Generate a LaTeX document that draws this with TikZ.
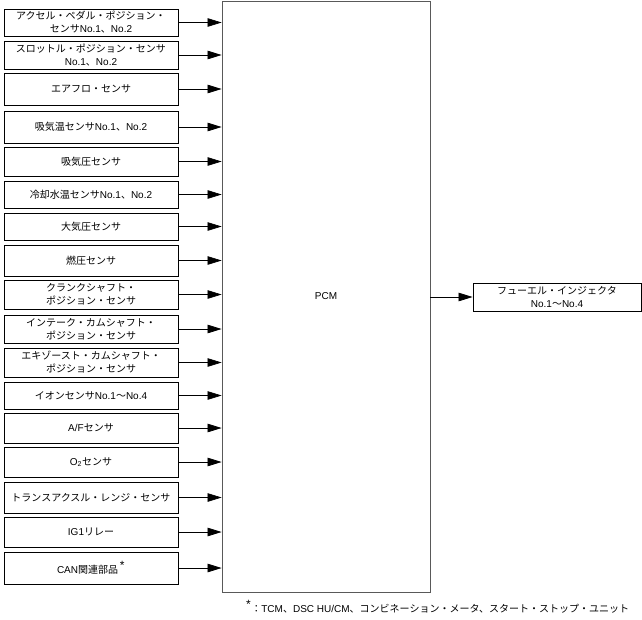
\documentclass[tikz,border=0pt]{standalone}
\usepackage{fontspec}
\setmainfont{Liberation Sans}
\newfontfamily\jpfont{Noto Sans CJK JP}
\newcommand\jp[1]{{\jpfont #1}}
\usepackage{tikz}
\usetikzlibrary{arrows.meta,positioning}

\begin{document}
\begin{tikzpicture}[x=1pt,y=-1pt,font=\fontsize{10}{13}\selectfont,
  sensor/.style={draw,line width=0.8pt,minimum width=174pt,inner sep=0pt,align=center},
  arr/.style={line width=0.7pt,-{Triangle[length=14pt,width=8.5pt]}}]
\useasboundingbox (0,0) rectangle (642,619);
\node[draw=black!65,line width=0.8pt,minimum width=208pt,minimum height=591pt,inner sep=0pt] (pcm) at (326,296.5) {PCM};
\node[sensor,minimum height=27pt] (s1) at (91,22.5) {\jp{アクセル・ペダル・ポジション・}\\\jp{センサ}No.1\jp{、}No.2};
\node[sensor,minimum height=28pt] (s2) at (91,55) {\jp{スロットル・ポジション・センサ}\\No.1\jp{、}No.2};
\node[sensor,minimum height=32pt] (s3) at (91,89) {\jp{エアフロ・センサ}};
\node[sensor,minimum height=32pt] (s4) at (91,127) {\jp{吸気温センサ}No.1\jp{、}No.2};
\node[sensor,minimum height=29pt] (s5) at (91,161.5) {\jp{吸気圧センサ}};
\node[sensor,minimum height=27pt] (s6) at (91,194.5) {\jp{冷却水温センサ}No.1\jp{、}No.2};
\node[sensor,minimum height=27pt] (s7) at (91,226.5) {\jp{大気圧センサ}};
\node[sensor,minimum height=31pt] (s8) at (91,260.5) {\jp{燃圧センサ}};
\node[sensor,minimum height=29pt] (s9) at (91,294.5) {\jp{クランクシャフト・}\\\jp{ポジション・センサ}};
\node[sensor,minimum height=28pt] (s10) at (91,329) {\jp{インテーク・カムシャフト・}\\\jp{ポジション・センサ}};
\node[sensor,minimum height=29pt] (s11) at (91,362.5) {\jp{エキゾースト・カムシャフト・}\\\jp{ポジション・センサ}};
\node[sensor,minimum height=27pt] (s12) at (91,395.5) {\jp{イオンセンサ}No.1\jp{〜}No.4};
\node[sensor,minimum height=30pt] (s13) at (91,428) {A/F\jp{センサ}};
\node[sensor,minimum height=30pt] (s14) at (91,462) {O\textsubscript{2}\jp{センサ}};
\node[sensor,minimum height=31pt] (s15) at (91,497.5) {\jp{トランスアクスル・レンジ・センサ}};
\node[sensor,minimum height=30pt] (s16) at (91,532) {IG1\jp{リレー}};
\node[sensor,minimum height=32pt] (s17) at (91,568) {CAN\jp{関連部品}\,\textsuperscript{\large *}};
\node[draw,line width=0.8pt,minimum width=168pt,minimum height=28pt,inner sep=0pt,align=center] (inj) at (557,297) {\jp{フューエル・インジェクタ}\\No.1\jp{〜}No.4};
\foreach \i in {1,...,17}{\draw[arr] (s\i.east) -- (s\i.east -| pcm.west);}
\draw[arr] (pcm.east |- inj.west) -- (inj.west);
\node[anchor=west,inner sep=0pt] (note) at (246,607) {\textsuperscript{\large *}\jp{：}TCM\jp{、}DSC HU/CM\jp{、コンビネーション・メータ、スタート・ストップ・ユニット}};
\end{tikzpicture}
\end{document}
